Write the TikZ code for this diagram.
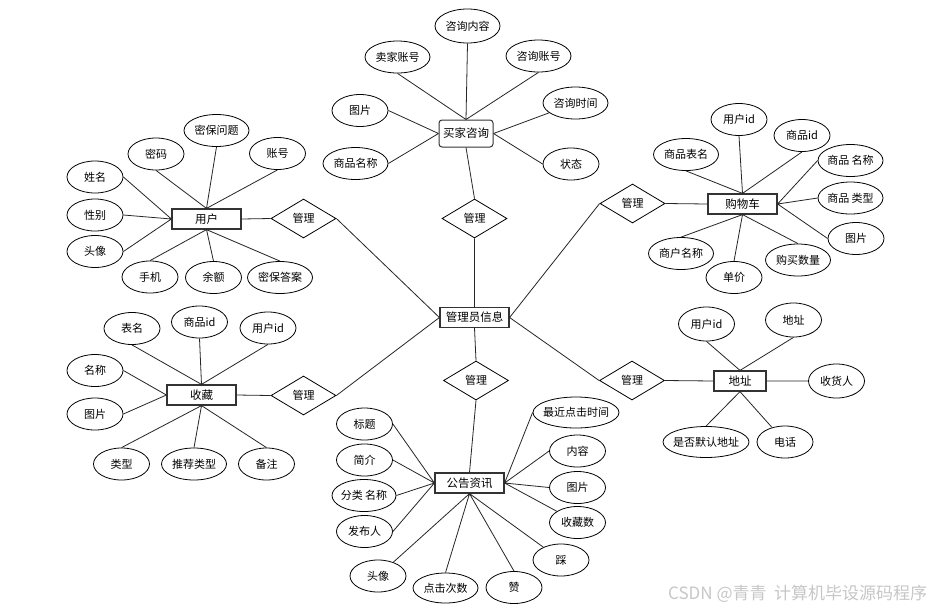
\documentclass[tikz,border=0pt]{standalone}
\usepackage{fontspec}
\setmainfont{Noto Sans CJK SC}
\usetikzlibrary{shapes.geometric}
\newcommand\cz[1]{\makebox[0pt]{#1}}
\begin{document}
\begin{tikzpicture}[x=1pt,y=-1pt,
 attr/.style={ellipse,draw=black,line width=0.8pt,inner sep=0pt,minimum width=56pt,minimum height=32pt,font=\fontsize{11}{13}\selectfont},
 wide/.style={minimum width=65pt},
 vwide/.style={minimum width=86pt,minimum height=31pt},
 ent/.style={rectangle,draw=black!80,line width=1.2pt,inner sep=0pt,minimum width=69pt,minimum height=20pt,font=\fontsize{11.5}{13}\selectfont},
 rel/.style={diamond,draw=black,line width=0.8pt,inner sep=0pt,minimum width=65pt,minimum height=39pt,font=\fontsize{11}{13}\selectfont},
 ln/.style={draw=black!85,line width=0.8pt}
]
\fill[white] (0,0) rectangle (944,611);
\useasboundingbox (0,0) rectangle (944,611);

% centre
\node[ent] (admin) at (474.5,317.5) {\cz{管理员信息}};
\node[rel] (r1) at (474.5,218.5) {\cz{管理}};
\node[rel] (r2) at (476,380.5) {\cz{管理}};
\node[rel] (r3) at (303.5,218.5) {\cz{管理}};
\node[rel] (r4) at (303.5,395.5) {\cz{管理}};
\node[rel] (r5) at (632.5,203.5) {\cz{管理}};
\node[rel] (r6) at (632,380.5) {\cz{管理}};

% 买家咨询
\node[ent,rounded corners=3pt,minimum width=54pt,minimum height=27pt,line width=1pt] (zx) at (466,133.5) {\cz{买家咨询}};
\node[attr,wide,minimum height=34pt] (zxnr) at (467.5,26) {\cz{咨询内容}};
\node[attr,wide] (mjzh) at (397.5,57) {\cz{卖家账号}};
\node[attr,wide] (zxzh) at (538.5,56) {\cz{咨询账号}};
\node[attr] (zxtp) at (360,110.5) {\cz{图片}};
\node[attr,wide] (zxsj) at (575.5,103) {\cz{咨询时间}};
\node[attr,wide] (zxmc) at (355.5,163.5) {\cz{商品名称}};
\node[attr] (zxzt) at (571,164) {\cz{状态}};

% 用户
\node[ent] (yh) at (206.5,219) {\cz{用户}};
\node[attr,wide] (yhmb) at (216.5,130.5) {\cz{密保问题}};
\node[attr] (yhmm) at (156,154) {\cz{密码}};
\node[attr] (yhzh) at (277.5,153.5) {\cz{账号}};
\node[attr] (yhxm) at (95,177) {\cz{姓名}};
\node[attr] (yhxb) at (95,215) {\cz{性别}};
\node[attr] (yhtx) at (95,251.5) {\cz{头像}};
\node[attr] (yhsj) at (150,277) {\cz{手机}};
\node[attr] (yhye) at (213.5,277.5) {\cz{余额}};
\node[attr,wide] (yhda) at (280,277.5) {\cz{密保答案}};

% 购物车
\node[ent] (gwc) at (742.5,204) {\cz{购物车}};
\node[attr] (gyh) at (739,119.5) {\cz{用户id}};
\node[attr] (gsp) at (802,135.5) {\cz{商品id}};
\node[attr,wide] (gbm) at (686,154.5) {\cz{商品表名}};
\node[attr,wide] (gmc) at (850.5,160.5) {\cz{商品 名称}};
\node[attr,wide] (glx) at (850.5,198) {\cz{商品 类型}};
\node[attr] (gtp) at (856,238.5) {\cz{图片}};
\node[attr,wide] (gsh) at (681,253.5) {\cz{商户名称}};
\node[attr] (gdj) at (734,277.5) {\cz{单价}};
\node[attr,wide] (gsl) at (798,260) {\cz{购买数量}};

% 收藏
\node[ent] (sc) at (201.5,395) {\cz{收藏}};
\node[attr] (sbm) at (132,328.5) {\cz{表名}};
\node[attr] (ssp) at (199.5,322) {\cz{商品id}};
\node[attr] (syh) at (268,328) {\cz{用户id}};
\node[attr] (smc) at (95,370.5) {\cz{名称}};
\node[attr] (stp) at (95,414) {\cz{图片}};
\node[attr] (slx) at (121.5,464) {\cz{类型}};
\node[attr,wide] (stj) at (194,464) {\cz{推荐类型}};
\node[attr] (sbz) at (266.5,464) {\cz{备注}};

% 地址
\node[ent,minimum width=52pt] (dz) at (740,381) {\cz{地址}};
\node[attr,minimum height=34pt] (dyh) at (706.5,324) {\cz{用户id}};
\node[attr,minimum height=34pt] (ddz) at (793.5,320) {\cz{地址}};
\node[attr,minimum height=34pt] (dsh) at (836.5,381) {\cz{收货人}};
\node[attr,vwide] (dmr) at (706,442) {\cz{是否默认地址}};
\node[attr] (ddh) at (785,442) {\cz{电话}};

% 公告资讯
\node[ent] (gg) at (469.5,483) {\cz{公告资讯}};
\node[attr] (gbt) at (364.5,424) {\cz{标题}};
\node[attr] (gjj) at (364.5,460) {\cz{简介}};
\node[attr,wide,minimum width=64pt] (gfl) at (364,495.5) {\cz{分类 名称}};
\node[attr] (gfb) at (364.5,531.5) {\cz{发布人}};
\node[attr] (gtx) at (378,576) {\cz{头像}};
\node[attr,wide,minimum height=30pt] (gdc) at (445.5,588) {\cz{点击次数}};
\node[attr] (gz) at (514,587.5) {\cz{赞}};
\node[attr] (gc) at (561,560) {\cz{踩}};
\node[attr,vwide] (gsj) at (576,412.5) {\cz{最近点击时间}};
\node[attr] (gnr) at (577.5,451) {\cz{内容}};
\node[attr] (gtp2) at (577.5,487.5) {\cz{图片}};
\node[attr] (gsc) at (577.5,522.5) {\cz{收藏数}};

% connectors
\path[ln]
 (zx.north) -- (zxnr.south) (zx.north) -- (mjzh.south) (zx.north) -- (zxzh.south)
 (zx.west) -- (zxtp.east) (zx.west) -- (zxmc.east) (zx.east) -- (zxsj) (zx.east) -- (zxzt.west)
 (zx.south) -- (r1.north) (r1.south) -- (admin.north)
 (yh.north) -- (yhmb.south) (yh.north) -- (yhmm.south) (yh.north) -- (yhzh.south)
 (yh.west) -- (yhxm.east) (yh.west) -- (yhxb.east) (yh.west) -- (yhtx.east)
 (yh.south) -- (yhsj.north) (yh.south) -- (yhye.north) (yh.south) -- (yhda.north)
 (yh.east) -- (r3.west) (r3.east) -- (admin.west)
 (gwc.north) -- (gyh.south) (gwc.north) -- (gsp.south) (gwc.north) -- (gbm.south)
 (gwc.east) -- (gmc.west) (gwc.east) -- (glx.west) (gwc.east) -- (gtp.west)
 (gwc.south) -- (gsh.north) (gwc.south) -- (gdj.north) (gwc.south) -- (gsl.north)
 (r5.east) -- (gwc.west) (r5.west) -- (admin.east)
 (sc.north) -- (sbm.south) (sc.north) -- (ssp.south) (sc.north) -- (syh.south)
 (sc.west) -- (smc.east) (sc.west) -- (stp.east)
 (sc.south) -- (slx.north) (sc.south) -- (stj.north) (sc.south) -- (sbz.north)
 (sc.east) -- (r4.west) (r4.east) -- (admin.west)
 (dz.north) -- (dyh.south) (dz.north) -- (ddz.south) (dz.east) -- (dsh.west)
 (dz.south) -- (dmr.north) (dz.south) -- (ddh)
 (r6.east) -- (dz.west) (r6.west) -- (admin.east)
 (admin.south) -- (r2.north) (r2.south) -- (gg.north)
 (gg.west) -- (gbt.east) (gg.west) -- (gjj.east) (gg.west) -- (gfl.east) (gg.west) -- (gfb.east)
 (gg.east) -- (gsj.west) (gg.east) -- (gnr.west) (gg.east) -- (gtp2.west) (gg.east) -- (gsc)
 (gg.south) -- (gtx) (gg.south) -- (gdc.north) (gg.south) -- (gz.north) (gg.south) -- (gc);

% watermark
\node[anchor=west,text=black!22,inner sep=0pt,font=\fontsize{17}{19}\selectfont] (wm) at (668,594) {CSDN @青青\ \ 计算机毕设源码程序};
\end{tikzpicture}
\end{document}
